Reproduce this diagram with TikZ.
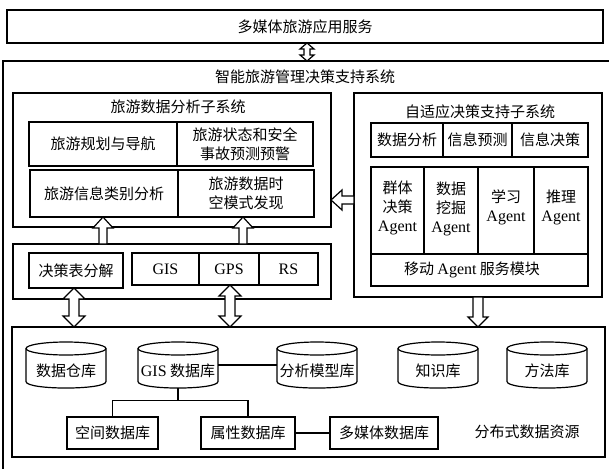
\documentclass[tikz,border=0pt]{standalone}
\usepackage{fontspec}
\setmainfont{Liberation Serif}
\newfontfamily\cjk{Noto Sans CJK SC}
\usetikzlibrary{calc}
\newcommand\en[1]{{\rmfamily\fontsize{16}{19}\selectfont #1}}
% upward single hollow arrow: x, tip y, tail y, shaft half width, head half width, head length
\newcommand\HArrU[6]{%
  \draw[harrow] (#1,#2) -- (#1+#5,#2+#6) -- (#1+#4,#2+#6) -- (#1+#4,#3) -- (#1-#4,#3)
    -- (#1-#4,#2+#6) -- (#1-#5,#2+#6) -- cycle;}
% downward single hollow arrow: x, tip y, tail y, shaft half width, head half width, head length
\newcommand\HArrD[6]{%
  \draw[harrow] (#1,#2) -- (#1+#5,#2-#6) -- (#1+#4,#2-#6) -- (#1+#4,#3) -- (#1-#4,#3)
    -- (#1-#4,#2-#6) -- (#1-#5,#2-#6) -- cycle;}
% vertical double hollow arrow: x, top y, bottom y, shaft half width, head half width, head length
\newcommand\HArrDV[6]{%
  \draw[harrow] (#1,#2) -- (#1+#5,#2+#6) -- (#1+#4,#2+#6) -- (#1+#4,#3-#6) -- (#1+#5,#3-#6)
    -- (#1,#3) -- (#1-#5,#3-#6) -- (#1-#4,#3-#6) -- (#1-#4,#2+#6) -- (#1-#5,#2+#6) -- cycle;}
% left-pointing hollow arrow: y, tip x, tail x, shaft half width, head half width, head length
\newcommand\HArrL[6]{%
  \draw[harrow] (#2,#1) -- (#2+#6,#1-#5) -- (#2+#6,#1-#4) -- (#3,#1-#4) -- (#3,#1+#4)
    -- (#2+#6,#1+#4) -- (#2+#6,#1+#5) -- cycle;}
% cylinder: name, x centre, text
\newcommand\Cyl[3]{%
  \node[minimum width=80, minimum height=46, inner sep=0pt] (#1) at (#2,365) {};
  \draw[cylline] (#2-40,348.5) -- (#2-40,381.5) .. controls (#2-40,390.2) and (#2+40,390.2) .. (#2+40,381.5) -- (#2+40,348.5);
  \draw[cylline] (#2,348.5) ellipse [x radius=40pt, y radius=6.5pt];
  \node[txt] (#1-t) at (#2,371) {#3};}

\tikzset{
  bx/.style={draw, line width=1.4pt, inner sep=0pt, align=center},
  txt/.style={inner sep=0pt, align=center},
  harrow/.style={draw, fill=white, line width=1.2pt, line join=miter},
  link/.style={line width=1.1pt},
  cylline/.style={line width=1.2pt},
}

\begin{document}
\begin{tikzpicture}[x=1pt,y=-1pt,font=\cjk\fontsize{15}{19}\selectfont]
\useasboundingbox (0,0) rectangle (609,468);
\fill[white] (0,0) rectangle (609,468);

% top service box
\node[bx, minimum width=596, minimum height=33] (top) at (305,26.5) {多媒体旅游应用服务};

% outer system frame (runs off the page to the right and bottom)
\begin{scope}
  \clip (0,0) rectangle (609,468);
  \draw[line width=1.5pt] (3,61) rectangle (640,500);
\end{scope}
\node[txt] (systitle) at (305,77) {智能旅游管理决策支持系统};

% left analysis subsystem
\node[bx, minimum width=318, minimum height=134] (lsub) at (172,160) {};
\node[txt] (lsubt) at (178,107) {旅游数据分析子系统};
\node[bx, minimum width=148, minimum height=44] (r1a) at (103,144) {旅游规划与导航};
\node[bx, minimum width=136, minimum height=44] (r1b) at (245,144) {旅游状态和安全\\事故预测预警};
\node[bx, minimum width=148, minimum height=47] (r2a) at (104,193.5) {旅游信息类别分析};
\node[bx, minimum width=136, minimum height=47] (r2b) at (246,193.5) {旅游数据时\\空模式发现};

% lower-left tools
\node[bx, minimum width=318, minimum height=55] (ll) at (172,271.5) {};
\node[bx, minimum width=94, minimum height=35] (jcb) at (76,270.5) {决策表分解};
\node[bx, minimum width=67, minimum height=32] (gis) at (165.5,269) {\en{GIS}};
\node[bx, minimum width=60, minimum height=32] (gps) at (229,269) {\en{GPS}};
\node[bx, minimum width=59, minimum height=32] (rs) at (288.5,269) {\en{RS}};

% right adaptive decision subsystem
\node[bx, minimum width=248, minimum height=204] (rsub) at (478,195) {};
\node[txt] (rsubt) at (480,112) {自适应决策支持子系统};
\node[bx, minimum width=72, minimum height=34] (sjfx) at (407,140) {数据分析};
\node[bx, minimum width=69, minimum height=34] (xxyc) at (477.5,140) {信息预测};
\node[bx, minimum width=76, minimum height=34] (xxjc) at (550,140) {信息决策};
\node[bx, minimum width=53, minimum height=87] (ag1) at (397.5,210.5) {};
\node[txt] (ag1t) at (397.5,208) {群体\\决策\\\en{Agent}};
\node[bx, minimum width=54, minimum height=87] (ag2) at (451,210.5) {};
\node[txt] (ag2t) at (451,209) {数据\\挖掘\\\en{Agent}};
\node[bx, minimum width=56, minimum height=87] (ag3) at (506,210.5) {};
\node[txt] (ag3t) at (506,207) {学习\\\en{Agent}};
\node[bx, minimum width=54, minimum height=87] (ag4) at (561,210.5) {};
\node[txt] (ag4t) at (561,207) {推理\\\en{Agent}};
\node[bx, minimum width=217, minimum height=32] (mob) at (479.5,270) {};
\node[txt] (mobt) at (472,270) {移动 \en{Agent} 服务模块};

% distributed data resources
\node[bx, minimum width=593, minimum height=130] (dist) at (308.5,392) {};
\Cyl{sjck}{66}{数据仓库}
\Cyl{gisdb}{178}{\en{GIS} 数据库}
\Cyl{fxmx}{317}{分析模型库}
\Cyl{zsk}{438}{知识库}
\Cyl{ffk}{547}{方法库}
\node[bx, minimum width=91, minimum height=32] (kjdb) at (112.5,433) {空间数据库};
\node[bx, minimum width=94, minimum height=32] (sxdb) at (248,433) {属性数据库};
\node[bx, minimum width=108, minimum height=32] (dmtdb) at (384,433) {多媒体数据库};
\node[txt] (fbs) at (527,432) {分布式数据资源};

% thin links
\draw[link] (gisdb.east) -- (fxmx.west);
\coordinate (br) at ($(gisdb.south)+(0,12)$);
\draw[link] (gisdb.south) -- (br);
\draw[link] (kjdb.north) |- (br) -| (sxdb.north);
\draw[link] (sxdb.east) -- (dmtdb.west);

% hollow block arrows
\HArrDV{307}{43}{61}{3}{7}{6}
\HArrU{103}{217}{244}{4}{10}{11}
\HArrU{243}{217}{244}{4}{10}{11}
\HArrL{200}{331}{354}{4}{10}{11}
\HArrDV{74}{288}{327}{5}{11}{11}
\HArrDV{230}{285}{327}{5}{11}{11}
\HArrD{478}{327}{297}{5}{10}{10}
\end{tikzpicture}
\end{document}
